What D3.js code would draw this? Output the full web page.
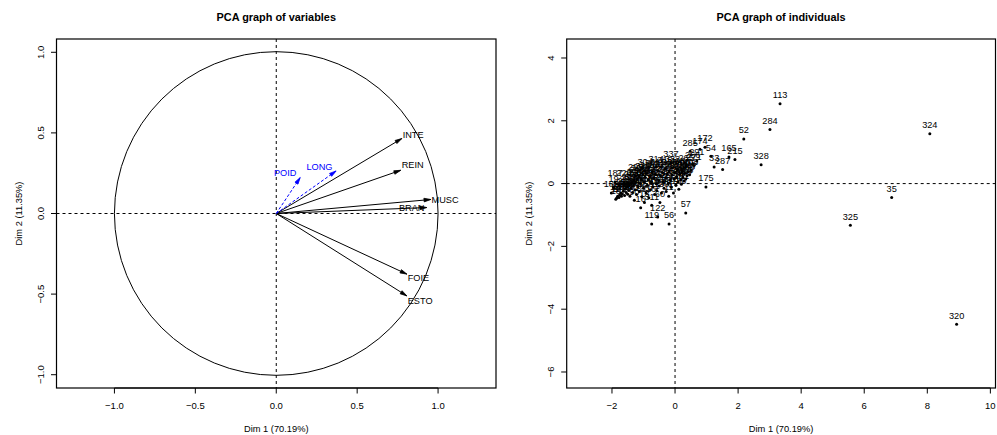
<!DOCTYPE html>
<html><head><meta charset="utf-8">
<script src="https://cdn.jsdelivr.net/npm/d3@7"></script>
<style>
body{margin:0;background:#fff}
svg{display:block}
text{font-family:"Liberation Sans",Arial,Helvetica,sans-serif}
</style>
</head><body>
<svg id="chart" width="997" height="435"></svg>
<script>
// ---------------- DATA ----------------
const titleVar = "PCA graph of variables";
const titleInd = "PCA graph of individuals";
const xLabel = "Dim 1 (70.19%)";
const yLabel = "Dim 2 (11.35%)";

const varNames = ["INTE","REIN","MUSC","BRAN","FOIE","ESTO","POID","LONG"];
const varDim1  = [0.776, 0.769, 0.955, 0.930, 0.807, 0.807, 0.148, 0.370];
const varDim2  = [0.465, 0.268, 0.087, 0.037,-0.376,-0.511, 0.223, 0.264];
const varSupplementary = [false,false,false,false,false,false,true,true];

const varTicks  = [-1, -0.5, 0, 0.5, 1];
const indTicksX = [-2, 0, 2, 4, 6, 8, 10];
const indTicksY = [-6, -4, -2, 0, 2, 4];

const indNames = [
 "18","1","197","102","135","289","203","48","259","150",
 "268","141","290","88","236","292","97","12","294","144",
 "230","296","90","207","262","79","298","222","300","64",
 "211","16","302","125","340","184","305","13","34","158",
 "310","239","248","116","39","193","227","311","308","86",
 "313","71","226","250","109","315","217","190","242","130",
 "319","232","155","318","244","77","200","252","11","335",
 "264","213","231","332","17","270","330","179","249","408",
 "182","180","273","261","181","405","281","188","321","263",
 "286","402","267","403","265","271","220","299","304","314",
 "185","19","187",
 "113","284","52","328","165","215","54","33","287","172",
 "174","285","291","266","337","400","175","60","57","56",
 "119","122","324","35","325","320"
];
const indDim1 = [
 -1.88,-1.85,-1.82,-1.78,-1.76,-1.72,-1.70,-1.67,-1.64,-1.60,
 -1.58,-1.55,-1.52,-1.50,-1.47,-1.45,-1.43,-1.40,-1.38,-1.35,
 -1.32,-1.30,-1.29,-1.27,-1.25,-1.22,-1.20,-1.18,-1.15,-1.13,
 -1.10,-1.09,-1.07,-1.05,-1.02,-1.00,-0.98,-0.97,-0.95,-0.92,
 -0.90,-0.88,-0.85,-0.83,-0.80,-0.78,-0.75,-0.74,-0.72,-0.70,
 -0.68,-0.65,-0.62,-0.60,-0.58,-0.55,-0.52,-0.50,-0.46,-0.43,
 -0.40,-0.38,-0.35,-0.32,-0.30,-0.28,-0.25,-0.22,-0.20,-0.18,
 -0.15,-0.12,-0.10,-0.08,-0.05,-0.03, 0.00, 0.03, 0.05, 0.08,
  0.10, 0.12, 0.15, 0.18, 0.20, 0.23, 0.25, 0.28, 0.30, 0.34,
  0.38, 0.42, 0.46, 0.50, 0.35, 0.60,-1.62,-1.25,-0.95,-0.60,
 -2.02,-1.95,-1.90,
  3.33, 3.01, 2.18, 2.73, 1.71, 1.90, 1.14, 1.24, 1.51, 0.95,
  0.79, 0.48, 0.69, 0.56,-0.13, 0.23, 0.98,-0.48, 0.34,-0.19,
 -0.74,-0.55, 8.08, 6.87, 5.56, 8.93
];
const indDim2 = [
 -0.50,-0.46,-0.40,-0.44,-0.36,-0.30,-0.40,-0.33,-0.24,-0.38,
 -0.18,-0.28,-0.12,-0.34,-0.22,-0.06,-0.40,-0.15, 0.02,-0.28,
 -0.08, 0.10,-0.53,-0.20, 0.05,-0.35, 0.15,-0.10, 0.22,-0.25,
  0.00,-0.77, 0.12,-0.42, 0.28,-0.15, 0.05,-0.60, 0.20,-0.30,
  0.32,-0.05, 0.12,-0.45, 0.25,-0.20, 0.05,-0.69, 0.38,-0.10,
  0.18,-0.35, 0.30, 0.00,-0.22, 0.42, 0.10,-0.08, 0.25,-0.30,
  0.35, 0.05,-0.15, 0.48, 0.18,-0.25, 0.30, 0.00,-0.40, 0.40,
  0.12,-0.12, 0.28, 0.50,-0.30, 0.15, 0.35,-0.05, 0.22, 0.45,
  0.05,-0.18, 0.30, 0.12,-0.02, 0.40, 0.20, 0.08, 0.32, 0.15,
  0.25, 0.38, 0.28, 0.42, 0.55, 0.58, 0.05, 0.25, 0.40, 0.52,
 -0.30,-0.12, 0.05,
  2.54, 1.72, 1.42, 0.60, 0.85, 0.77, 0.87, 0.53, 0.45, 1.16,
  1.09, 1.03, 0.72, 0.64, 0.65, 0.37,-0.11,-0.60,-0.94,-1.29,
 -1.29,-1.06, 1.59,-0.44,-1.33,-4.48
];

// ---------------- LAYOUT ----------------
const svg = d3.select("#chart");
const FONT_TICK = 9.5, FONT_AXIS = 9.3, FONT_LAB = 9.2, FONT_TITLE = 10.9;
const minus = s => s.replace("-", "\u2212");

function panel(cfg){
  const g = svg.append("g");
  const x = d3.scaleLinear().domain(cfg.xDom).range([cfg.left, cfg.right]);
  const y = d3.scaleLinear().domain(cfg.yDom).range([cfg.bottom, cfg.top]);
  g.append("text").attr("x",(cfg.left+cfg.right)/2).attr("y",20.5)
   .attr("text-anchor","middle").attr("font-size",FONT_TITLE).attr("font-weight","bold")
   .text(cfg.title);
  const xa = g.append("g");
  cfg.xTicks.forEach(t=>{
    xa.append("line").attr("x1",x(t)).attr("x2",x(t)).attr("y1",cfg.bottom).attr("y2",cfg.bottom+5.5)
      .attr("stroke","#000").attr("stroke-width",1);
    xa.append("text").attr("x",x(t)).attr("y",cfg.bottom+20.5).attr("text-anchor","middle")
      .attr("font-size",FONT_TICK).text(minus(cfg.tickFmt(t)));
  });
  xa.append("line").attr("x1",x(cfg.xTicks[0])).attr("x2",x(cfg.xTicks[cfg.xTicks.length-1]))
    .attr("y1",cfg.bottom).attr("y2",cfg.bottom).attr("stroke","#000");
  const ya = g.append("g");
  cfg.yTicks.forEach(t=>{
    ya.append("line").attr("x1",cfg.left-5.5).attr("x2",cfg.left).attr("y1",y(t)).attr("y2",y(t))
      .attr("stroke","#000").attr("stroke-width",1);
    ya.append("text").attr("transform",`translate(${cfg.left-12.6},${y(t)}) rotate(-90)`)
      .attr("text-anchor","middle").attr("font-size",FONT_TICK).text(minus(cfg.tickFmt(t)));
  });
  g.append("text").attr("x",(cfg.left+cfg.right)/2).attr("y",cfg.bottom+43.5)
   .attr("text-anchor","middle").attr("font-size",FONT_AXIS).text(xLabel);
  g.append("text").attr("transform",`translate(${cfg.left-35},${(cfg.top+cfg.bottom)/2}) rotate(-90)`)
   .attr("text-anchor","middle").attr("font-size",FONT_AXIS).text(yLabel);
  g.append("line").attr("x1",x(0)).attr("x2",x(0)).attr("y1",cfg.top).attr("y2",cfg.bottom)
   .attr("stroke","#000").attr("stroke-dasharray","3,3");
  g.append("line").attr("x1",cfg.left).attr("x2",cfg.right).attr("y1",y(0)).attr("y2",y(0))
   .attr("stroke","#000").attr("stroke-dasharray","3,3");
  g.append("rect").attr("x",cfg.left).attr("y",cfg.top).attr("width",cfg.right-cfg.left)
   .attr("height",cfg.bottom-cfg.top).attr("fill","none").attr("stroke","#000").attr("stroke-width",1.2);
  return {g,x,y};
}

// ---- left: variables
const P1 = panel({left:56.5,right:496,top:39,bottom:388,
  xDom:[-1.358,1.358], yDom:[-1.0824,1.0824],
  xTicks:varTicks, yTicks:varTicks, title:titleVar,
  tickFmt: d3.format(".1f")});
{
  const {g,x,y} = P1;
  const r = x(1)-x(0);
  g.append("circle").attr("cx",x(0)).attr("cy",y(0)).attr("r",r)
   .attr("fill","none").attr("stroke","#000").attr("stroke-width",1);
  const labelOffset = {INTE:[11.3,-4.3],REIN:[12,-5.7],MUSC:[14.3,0],BRAN:[-15,0],
                       FOIE:[11.6,3.7],ESTO:[13.3,5.3],POID:[-15,-4.6],LONG:[-16.7,-4]};
  varNames.forEach((nm,i)=>{
    const col = varSupplementary[i] ? "#0000ff" : "#000";
    const x0=x(0), y0=y(0), x1=x(varDim1[i]), y1=y(varDim2[i]);
    g.append("line").attr("x1",x0).attr("y1",y0).attr("x2",x1).attr("y2",y1)
     .attr("stroke",col).attr("stroke-width",1)
     .attr("stroke-dasharray", varSupplementary[i] ? "3,2" : null);
    const ang = Math.atan2(y1-y0, x1-x0), L=7, a=15*Math.PI/180;
    const p1=[x1-L*Math.cos(ang-a), y1-L*Math.sin(ang-a)];
    const p2=[x1-L*Math.cos(ang+a), y1-L*Math.sin(ang+a)];
    g.append("path").attr("d",`M${p1[0]},${p1[1]}L${x1},${y1}L${p2[0]},${p2[1]}Z`)
     .attr("fill",col).attr("stroke",col).attr("stroke-width",0.8).attr("stroke-linejoin","miter");
    const off = labelOffset[nm];
    g.append("text").attr("x",x1+off[0]).attr("y",y1+off[1]+3.3)
     .attr("text-anchor","middle").attr("font-size",FONT_LAB).attr("fill",col).text(nm);
  });
}

// ---- right: individuals
const P2 = panel({left:566.7,right:995.5,top:39,bottom:388,
  xDom:[-3.436,10.163], yDom:[-6.51,4.605],
  xTicks:indTicksX, yTicks:indTicksY, title:titleInd,
  tickFmt: d3.format("d")});
{
  const {g,x,y} = P2;
  const idx = d3.range(indNames.length);
  g.append("g").selectAll("circle").data(idx).join("circle")
   .attr("cx",i=>x(indDim1[i])).attr("cy",i=>y(indDim2[i])).attr("r",1.5).attr("fill","#000");
  g.append("g").selectAll("text").data(idx).join("text")
   .attr("x",i=>x(indDim1[i])).attr("y",i=>y(indDim2[i])-5.7)
   .attr("text-anchor","middle").attr("font-size",FONT_LAB).attr("fill","#000")
   .text(i=>indNames[i]);
}
</script>
</body></html>
